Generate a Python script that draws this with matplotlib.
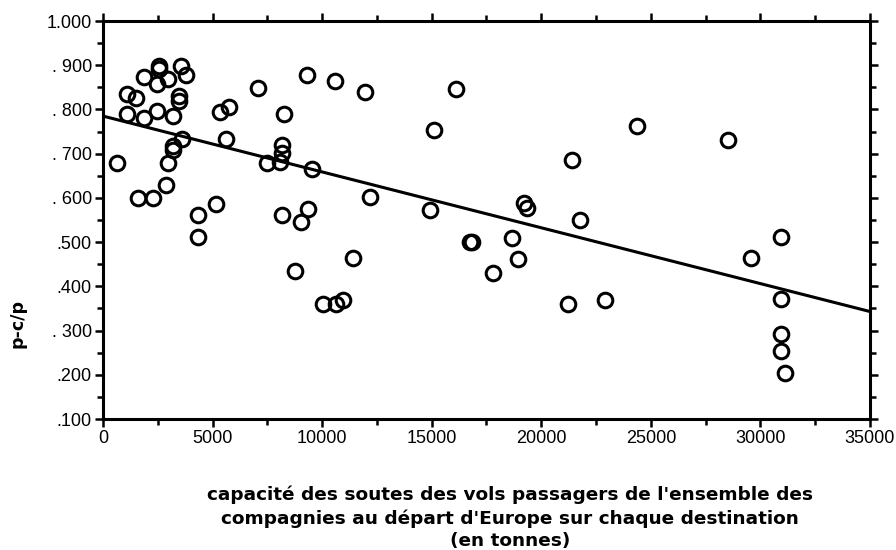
import numpy as np
import matplotlib
matplotlib.use("Agg")
import matplotlib.pyplot as plt
from matplotlib.ticker import MultipleLocator

plt.rcParams['font.family'] = ['Liberation Sans', 'DejaVu Sans']

# data
capacity = [625, 1109, 1506, 1109, 1871, 1871, 2542, 2570, 2478, 2980, 2478, 3180,
            3454, 3454, 3546, 3774, 3591, 3180, 3180, 2980, 2875, 1611, 2295, 4349,
            5157, 5339, 5736, 5613, 7087, 7467, 8181, 8181, 8077, 8260, 9290, 9518,
            8181, 9369, 9021, 10587, 11956, 12184, 4349, 8763, 11418, 10053, 10632,
            10967, 16094, 15103, 14920, 16745, 16850, 18644, 18948, 17776, 19208,
            19330, 21382, 21760, 21227, 22898, 24350, 28506, 29556, 30926, 30926,
            30940, 30940, 31136]
ratio = [0.678, 0.835, 0.825, 0.790, 0.873, 0.780, 0.898, 0.891, 0.858, 0.868, 0.797,
         0.785, 0.830, 0.818, 0.898, 0.879, 0.733, 0.717, 0.708, 0.678, 0.629, 0.600,
         0.600, 0.561, 0.586, 0.795, 0.805, 0.733, 0.849, 0.678, 0.720, 0.701, 0.682,
         0.790, 0.879, 0.665, 0.561, 0.576, 0.546, 0.864, 0.840, 0.601, 0.512, 0.435,
         0.465, 0.360, 0.360, 0.368, 0.846, 0.754, 0.573, 0.500, 0.500, 0.510, 0.461,
         0.431, 0.588, 0.578, 0.686, 0.550, 0.359, 0.369, 0.763, 0.731, 0.463, 0.511,
         0.371, 0.292, 0.254, 0.205]
trend_x = [0, 35000]
trend_y = [0.785, 0.343]

x_ticks = [0, 5000, 10000, 15000, 20000, 25000, 30000, 35000]
x_tick_labels = ["0", "5000", "10000", "15000", "20000", "25000", "30000", "35000"]
y_ticks = [0.1, 0.2, 0.3, 0.4, 0.5, 0.6, 0.7, 0.8, 0.9, 1.0]
y_tick_labels = [".100", ".200", ". 300", ".400", ".500", ". 600", ". 700", ". 800", ". 900", "1.000"]

fig = plt.figure(figsize=(8.96, 5.5), dpi=100)
ax = fig.add_axes([103/896, 1 - 419/550, (870 - 103)/896, (419 - 21)/550])

ax.plot(trend_x, trend_y, color='black', lw=2.2, zorder=2)
ax.plot(capacity, ratio, linestyle='none', marker='o', markersize=10.5,
        markerfacecolor='none', markeredgecolor='black', markeredgewidth=2.2, zorder=3)

ax.set_xlim(0, 35000)
ax.set_ylim(0.1, 1.0)
ax.set_xticks(x_ticks)
ax.set_xticklabels(x_tick_labels, fontsize=13)
ax.set_yticks(y_ticks)
ax.set_yticklabels(y_tick_labels, fontsize=13)
ax.xaxis.set_minor_locator(MultipleLocator(2500))
ax.yaxis.set_minor_locator(MultipleLocator(0.05))
ax.tick_params(which='both', direction='out', top=True, right=True, width=1.8, color='black')
ax.tick_params(which='major', length=6)
ax.tick_params(axis='x', which='major', pad=2)
ax.tick_params(axis='y', which='major', pad=2)
ax.tick_params(which='minor', length=4)
for s in ax.spines.values():
    s.set_linewidth(2.2)

fig.text(18/896, 1 - 324/550, "p-c/p", rotation=90, fontsize=12.5, fontweight='bold',
         ha='center', va='center', family='DejaVu Sans')
fig.text(510/896, 1 - 518/550,
         "capacité des soutes des vols passagers de l'ensemble des\n"
         "compagnies au départ d'Europe sur chaque destination\n(en tonnes)",
         ha='center', va='center', fontsize=13.3, fontweight='bold', linespacing=1.33,
         family='DejaVu Sans')

fig.savefig("out.png", dpi=100)
